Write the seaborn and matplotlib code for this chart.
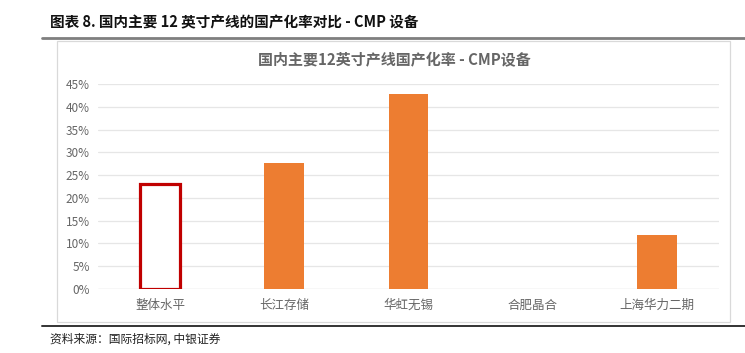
import matplotlib
matplotlib.use("Agg")
import matplotlib.pyplot as plt
import seaborn as sns
import pandas as pd
from matplotlib.patches import Rectangle
from matplotlib.lines import Line2D
from matplotlib.ticker import PercentFormatter

categories = ["整体水平", "长江存储", "华虹无锡", "合肥晶合", "上海华力二期"]
rates = [0.230, 0.276, 0.428, 0.0, 0.118]
y_ticks = [0, 0.05, 0.10, 0.15, 0.20, 0.25, 0.30, 0.35, 0.40, 0.45]

sns.set_style("white")
plt.rcParams["font.family"] = ["Noto Sans CJK SC", "DejaVu Sans"]

W, H = 745, 353
fig = plt.figure(figsize=(W / 100, H / 100), dpi=100)

def fx(px):
    return px / W

def fy(py):
    return 1 - py / H

# frame lines and chart box
fig.add_artist(Line2D([fx(42), fx(745)], [fy(37.5), fy(37.5)], color="#7f7f7f", lw=2.0))
fig.add_artist(Line2D([fx(42), fx(745)], [fy(326), fy(326)], color="#333333", lw=1.4))
fig.add_artist(Rectangle((fx(57), fy(322)), fx(730) - fx(57), fy(41) - fy(322),
                         fill=False, edgecolor="#d9d9d9", lw=0.9))

fig.text(fx(50), fy(22), "图表 8. 国内主要 12 英寸产线的国产化率对比 - CMP 设备",
         fontsize=10.5, fontweight="bold", va="center", ha="left", color="#111111")
fig.text(fx(50), fy(339), "资料来源：国际招标网, 中银证券", fontsize=8.5,
         style="italic", va="center", ha="left", color="#222222")
fig.text(fx(394), fy(60), "国内主要12英寸产线国产化率 - CMP设备", fontsize=10.8,
         fontweight="bold", color="#666666", ha="center", va="center")

ax = fig.add_axes([fx(98), fy(289), fx(719) - fx(98), fy(84) - fy(289)])
df = pd.DataFrame({"cat": categories, "rate": rates})
sns.barplot(data=df, x="cat", y="rate", color="#ed7d31", width=0.32,
            saturation=1, ax=ax)

# first bar: hollow red outline
first = ax.patches[0]
first.set_facecolor("white")
first.set_edgecolor("#c00000")
first.set_linewidth(2.3)
for p in ax.patches[1:]:
    p.set_linewidth(0)

ax.set_ylim(0, 0.45)
ax.set_yticks(y_ticks)
ax.yaxis.set_major_formatter(PercentFormatter(1.0, decimals=0))
ax.grid(axis="y", color="#e6e6e6", lw=0.9)
ax.set_axisbelow(True)
for s in ax.spines.values():
    s.set_visible(False)
ax.axhline(0, color="#d9d9d9", lw=0.9, zorder=0)
ax.set_xlabel("")
ax.set_ylabel("")
ax.tick_params(axis="both", length=0, labelsize=8.5, labelcolor="#666666")
ax.tick_params(axis="x", pad=7, labelsize=9)
ax.tick_params(axis="y", pad=6)

fig.savefig("out.png", dpi=100)
